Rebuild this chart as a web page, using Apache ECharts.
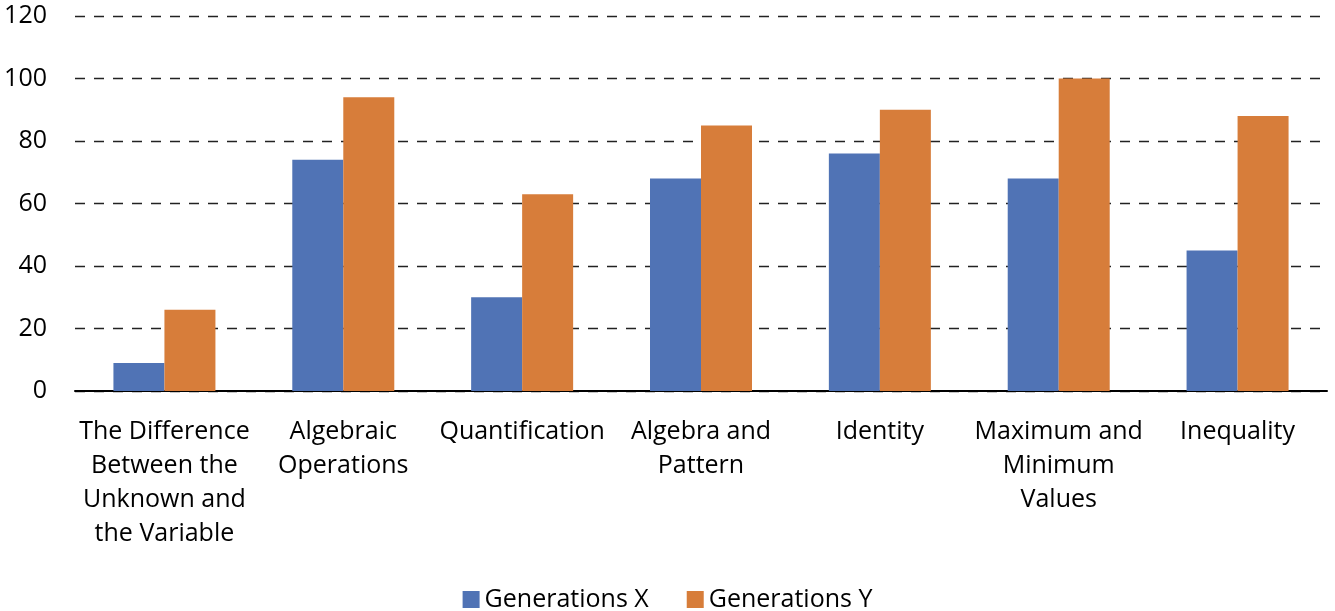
<!DOCTYPE html>
<html>
<head>
<meta charset="utf-8">
<script src="https://cdn.jsdelivr.net/npm/echarts@6/dist/echarts.min.js"></script>
<style>
  html, body { margin: 0; padding: 0; background: #fff; }
  #main { width: 1335px; height: 611px; }
</style>
</head>
<body>
<div id="main"></div>
<script>
const categories = [
  "The Difference\nBetween the\nUnknown and\nthe Variable",
  "Algebraic\nOperations",
  "Quantification",
  "Algebra and\nPattern",
  "Identity",
  "Maximum and\nMinimum\nValues",
  "Inequality"
];
const genX = [9, 74, 30, 68, 76, 68, 45];
const genY = [26, 94, 63, 85, 90, 100, 88];
const yTicks = [0, 20, 40, 60, 80, 100, 120];

const FONT = "Open Sans";
const SIZE = 25;

const chart = echarts.init(document.getElementById("main"));
chart.setOption({
  animation: false,
  textStyle: { fontFamily: FONT },
  grid: { left: 75, right: 8, top: 16, bottom: 220 },
  legend: {
    bottom: -6,
    left: "center",
    itemWidth: 17,
    itemHeight: 17,
    itemGap: 38,
    icon: "rect",
    textStyle: { fontFamily: FONT, fontSize: SIZE, color: "#000" },
    data: ["Generations X", "Generations Y"]
  },
  xAxis: {
    type: "category",
    data: categories,
    axisLine: { lineStyle: { color: "#000", width: 2 } },
    axisTick: { show: false },
    axisLabel: {
      interval: 0,
      margin: 24,
      fontFamily: FONT,
      fontSize: SIZE,
      lineHeight: 34,
      color: "#000"
    }
  },
  yAxis: {
    type: "value",
    min: yTicks[0],
    max: yTicks[yTicks.length - 1],
    interval: 20,
    axisLine: { show: false },
    axisTick: { show: false },
    axisLabel: { fontFamily: FONT, fontSize: SIZE, color: "#000", margin: 28 },
    splitLine: { lineStyle: { color: "#222", width: 1.3, type: [10, 9] } }
  },
  series: [
    {
      name: "Generations X",
      type: "bar",
      data: genX,
      barWidth: 51,
      barGap: "0%",
      itemStyle: { color: "#5073B5" }
    },
    {
      name: "Generations Y",
      type: "bar",
      data: genY,
      barWidth: 51,
      barGap: "0%",
      itemStyle: { color: "#D77D3A" }
    }
  ]
});
</script>
</body>
</html>
